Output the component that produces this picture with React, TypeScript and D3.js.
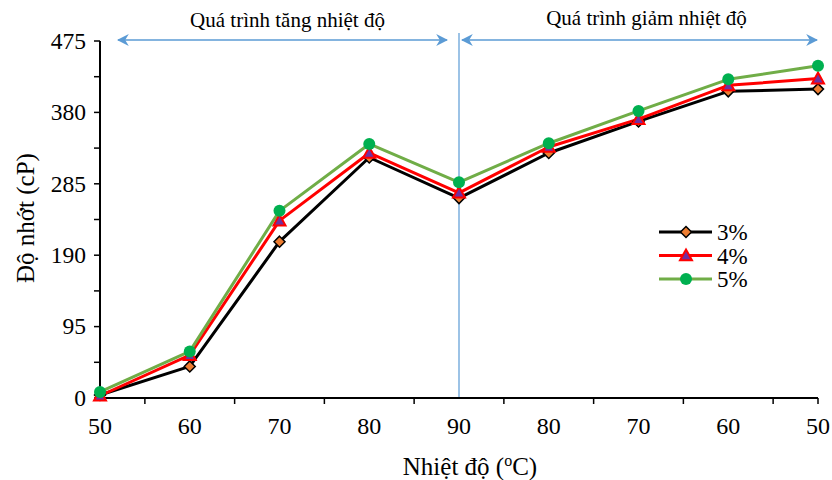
import { useMemo } from "react";
import * as d3 from "d3";

const W = 832;
const H = 480;
const MARGIN = { top: 41, right: 14, bottom: 82, left: 100 };

const tempLabels = ["50", "60", "70", "80", "90", "80", "70", "60", "50"];
const yTicks = [0, 95, 190, 285, 380, 475];
const seriesNames = ["3%", "4%", "5%"];
const values3 = [4, 42, 208, 320, 266, 326, 368, 408, 411];
const values4 = [3, 57, 236, 326, 273, 334, 371, 416, 425];
const values5 = [8, 62, 249, 338, 287, 339, 382, 424, 442];
const phaseLabels = ["Quá trình tăng nhiệt độ", "Quá trình giảm nhiệt độ"];

const TXT = { fontFamily: "Liberation Serif" };
const ARROW = "#5B9BD5";

const styles = [
  { line: "#000000", fill: "#ED7D31", stroke: "#000000", shape: "diamond" },
  { line: "#FF0000", fill: "#7030A0", stroke: "#FF0000", shape: "triangle" },
  { line: "#70AD47", fill: "#00B050", stroke: "#00B050", shape: "circle" },
];

function Marker({ x, y, i }: { x: number; y: number; i: number }) {
  const s = styles[i];
  if (s.shape === "diamond") {
    const r = 5.5;
    return (
      <path
        d={`M${x},${y - r}L${x + r},${y}L${x},${y + r}L${x - r},${y}Z`}
        fill={s.fill}
        stroke={s.stroke}
        strokeWidth={1.5}
      />
    );
  }
  if (s.shape === "triangle") {
    const r = 6;
    return (
      <path
        d={`M${x},${y - r}L${x + r},${y + r * 0.8}L${x - r},${y + r * 0.8}Z`}
        fill={s.fill}
        stroke={s.stroke}
        strokeWidth={2}
      />
    );
  }
  return <circle cx={x} cy={y} r={6} fill={s.fill} />;
}

export default function App() {
  const innerW = W - MARGIN.left - MARGIN.right;
  const innerH = H - MARGIN.top - MARGIN.bottom;
  const idx = tempLabels.map((_, i) => i);

  const x = useMemo(
    () => d3.scalePoint<number>().domain(idx).range([0, innerW]),
    [innerW]
  );
  const y = useMemo(
    () => d3.scaleLinear().domain([0, 475]).range([innerH, 0]),
    [innerH]
  );

  const line = d3
    .line<number>()
    .x((_, i) => x(i)!)
    .y((d) => y(d));

  const allSeries = [values3, values4, values5];
  const step = x.step();
  const minorY = d3.range(47.5, 475, 95);
  const midX = x(4)!;
  const arrowY = -1;

  return (
    <svg
      width={W}
      height={H}
      style={{ position: "absolute", left: 0, top: 0, background: "#fff" }}
    >
      <defs>
        <marker
          id="ah"
          viewBox="0 0 10 10"
          refX="9"
          refY="5"
          markerWidth="8"
          markerHeight="8"
          orient="auto-start-reverse"
        >
          <path d="M0,0L10,5L0,10L3,5Z" fill={ARROW} />
        </marker>
      </defs>
      <g transform={`translate(${MARGIN.left},${MARGIN.top})`}>
        {/* divider line at 90 */}
        <line x1={midX} x2={midX} y1={-8} y2={innerH} stroke={ARROW} strokeWidth={1.2} />
        {/* phase arrows */}
        <line
          x1={18}
          x2={midX - 12}
          y1={arrowY}
          y2={arrowY}
          stroke={ARROW}
          strokeWidth={1.5}
          markerStart="url(#ah)"
          markerEnd="url(#ah)"
        />
        <line
          x1={midX + 3}
          x2={innerW - 1}
          y1={arrowY}
          y2={arrowY}
          stroke={ARROW}
          strokeWidth={1.5}
          markerStart="url(#ah)"
          markerEnd="url(#ah)"
        />
        <text x={midX / 2 + 8} y={-14} textAnchor="middle" fontSize={21} style={TXT}>
          {phaseLabels[0]}
        </text>
        <text x={(midX + innerW) / 2 + 8} y={-16} textAnchor="middle" fontSize={21} style={TXT}>
          {phaseLabels[1]}
        </text>

        {/* axes */}
        <line x1={0} x2={0} y1={0} y2={innerH} stroke="#000" strokeWidth={2} />
        <line x1={0} x2={innerW} y1={innerH} y2={innerH} stroke="#000" strokeWidth={2} />
        {yTicks.map((t) => (
          <g key={t} transform={`translate(0,${y(t)})`}>
            <line x1={-6} x2={0} stroke="#000" strokeWidth={1.5} />
            <text x={-14} dy="0.33em" textAnchor="end" fontSize={23.5} style={TXT}>
              {t}
            </text>
          </g>
        ))}
        {minorY.map((t) => (
          <line key={t} x1={-6} x2={0} y1={y(t)} y2={y(t)} stroke="#000" strokeWidth={1.5} />
        ))}
        {d3.range(0, tempLabels.length - 1).map((i) => (
          <line
            key={i}
            x1={x(i)! + step / 2}
            x2={x(i)! + step / 2}
            y1={innerH}
            y2={innerH + 6}
            stroke="#000"
            strokeWidth={1.5}
          />
        ))}
        <line x1={innerW} x2={innerW} y1={innerH} y2={innerH + 6} stroke="#000" strokeWidth={1.5} />
        {tempLabels.map((l, i) => (
          <text key={i} x={x(i)} y={innerH + 36} textAnchor="middle" fontSize={24} style={TXT}>
            {l}
          </text>
        ))}

        {/* series */}
        {allSeries.map((vals, si) => (
          <path
            key={si}
            d={line(vals)!}
            fill="none"
            stroke={styles[si].line}
            strokeWidth={3}
            strokeLinejoin="round"
          />
        ))}
        {allSeries.map((vals, si) => (
          <g key={si}>
            {vals.map((v, i) => (
              <Marker key={i} x={x(i)!} y={y(v)} i={si} />
            ))}
          </g>
        ))}
      </g>

      {/* axis titles */}
      <text transform="translate(34,218) rotate(-90)" textAnchor="middle" fontSize={25} style={TXT}>
        Độ nhớt (cP)
      </text>
      <text x={470} y={475} textAnchor="middle" fontSize={25} style={TXT}>
        Nhiệt độ (
        <tspan fontSize={16} dy={-9}>
          o
        </tspan>
        <tspan dy={9}>C)</tspan>
      </text>

      {/* legend */}
      {seriesNames.map((n, i) => {
        const ly = 232 + i * 23.5;
        return (
          <g key={n}>
            <line x1={659} x2={712} y1={ly} y2={ly} stroke={styles[i].line} strokeWidth={3} />
            <Marker x={686} y={ly} i={i} />
            <text x={717} y={ly} dy="0.35em" fontSize={23} style={TXT}>
              {n}
            </text>
          </g>
        );
      })}
    </svg>
  );
}
